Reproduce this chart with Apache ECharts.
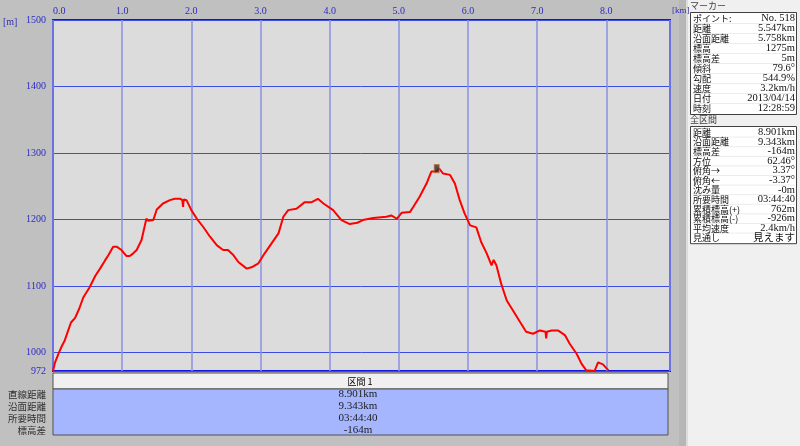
<!DOCTYPE html>
<html><head><meta charset="utf-8">
<script src="https://cdn.jsdelivr.net/npm/echarts@6/dist/echarts.min.js"></script>
<style>html,body{margin:0;padding:0;background:#c0c0c0;}#c{width:800px;height:446px;}</style>
</head><body><div id="c"></div>
<script>
// ---- data ----
const dist = [0,0.03,0.08,0.13,0.17,0.21,0.26,0.32,0.38,0.44,
0.53,0.61,0.68,0.75,0.80,0.87,0.92,0.99,1.06,1.11,
1.16,1.21,1.28,1.35,1.38,1.40,1.45,1.50,1.59,1.69,
1.76,1.84,1.87,1.88,1.89,1.93,2.00,2.08,2.17,2.27,
2.37,2.46,2.53,2.61,2.68,2.80,2.87,2.97,3.06,3.16,
3.26,3.33,3.40,3.52,3.64,3.74,3.83,3.91,4.05,4.17,
4.29,4.40,4.48,4.63,4.82,4.89,4.97,5.04,5.16,5.21,
5.30,5.40,5.47,5.54,5.58,5.64,5.74,5.81,5.88,5.95,
6.03,6.12,6.19,6.27,6.34,6.37,6.41,6.48,6.56,6.65,
6.75,6.84,6.94,7.04,7.12,7.13,7.14,7.21,7.30,7.40,
7.47,7.57,7.64,7.71,7.83,7.88,7.95,8.03];
const elev = [972,985,998,1010,1018,1030,1045,1052,1066,1083,
1098,1115,1126,1138,1146,1159,1159,1154,1145,1145,
1149,1154,1169,1201,1198,1196,1199,1215,1224,1229,
1231,1231,1229,1219,1230,1229,1214,1201,1189,1174,
1161,1154,1154,1146,1136,1126,1128,1134,1149,1164,
1179,1204,1214,1216,1226,1226,1231,1224,1214,1199,
1193,1195,1199,1202,1204,1206,1201,1210,1211,1219,
1234,1254,1272,1272,1277,1269,1267,1254,1229,1209,
1191,1188,1166,1149,1131,1139,1131,1103,1078,1063,
1046,1031,1028,1033,1031,1021,1031,1033,1033,1026,
1013,998,983,973,972,985,982,973];
const markerPoint = [5.547, 1275];
const yTicks = [972,1000,1100,1200,1300,1400,1500];
const xMin = 0, xMax = 8.92, yMin = 972, yMax = 1500;

const sectionHeader = '区間 1';
const sectionLabels = ['直線距離','沿面距離','所要時間','標高差'];
const sectionValues = ['8.901km','9.343km','03:44:40','-164m'];

const markerTitle = 'マーカー';
const markerLabels = ['ポイント:','距離','沿面距離','標高','標高差','傾斜','勾配','速度','日付','時刻'];
const markerValues = ['No. 518','5.547km','5.758km','1275m','5m','79.6°','544.9%','3.2km/h','2013/04/14','12:28:59'];
const totalTitle = '全区間';
const totalLabels = ['距離','沿面距離','標高差','方位','俯角→','俯角←','沈み量','所要時間','累積標高(+)','累積標高(-)','平均速度','見通し'];
const totalValues = ['8.901km','9.343km','-164m','62.46°','3.37°','-3.37°','-0m','03:44:40','762m','-926m','2.4km/h','見えます'];

// ---- chart ----
const FONT = "'Noto Sans CJK JP', 'DejaVu Sans', sans-serif";
const NUMFONT = "'Liberation Serif', 'Noto Sans CJK JP', serif";
const chart = echarts.init(document.getElementById('c'), null, {renderer:'canvas'});

const g = [];
// right side strips & panel
g.push({type:'rect', shape:{x:679,y:0,width:7,height:446}, style:{fill:'#b6b6b6'}, z:0});
g.push({type:'rect', shape:{x:686,y:0,width:2,height:446}, style:{fill:'#dcdcdc'}, z:0});
g.push({type:'rect', shape:{x:688,y:0,width:112,height:446}, style:{fill:'#f0f0f0'}, z:0});
// bottom section table
g.push({type:'rect', shape:{x:53,y:373,width:615,height:16}, style:{fill:'#f0f0f0', stroke:'#505050', lineWidth:1}, z:1});
g.push({type:'rect', shape:{x:53,y:389,width:615,height:46}, style:{fill:'#a6b6fe', stroke:'#505050', lineWidth:1}, z:1});
g.push({type:'text', x:360, y:381.5, style:{text:sectionHeader, fill:'#000', font:'9px '+FONT, align:'center', verticalAlign:'middle'}, z:5});
sectionLabels.forEach((t,i)=>{
  g.push({type:'text', x:46, y:394+i*12, style:{text:t, fill:'#303030', font:'9.5px '+FONT, align:'right', verticalAlign:'middle'}, z:5});
});
sectionValues.forEach((t,i)=>{
  g.push({type:'text', x:358, y:394+i*12, style:{text:t, fill:'#202020', font:'11px '+NUMFONT, align:'center', verticalAlign:'middle'}, z:5});
});
// right tables
function panelTable(title, titleY, top, rowH, labels, values){
  g.push({type:'text', x:690, y:titleY, style:{text:title, fill:'#404040', font:'9px '+FONT, align:'left', verticalAlign:'middle'}, z:5});
  const h = rowH*labels.length;
  g.push({type:'rect', shape:{x:690.5,y:top+0.5,width:106,height:h+2}, style:{fill:'#ffffff', stroke:'#404040', lineWidth:1}, z:1});
  labels.forEach((t,i)=>{
    const cy = top + 1.5 + rowH*(i+0.5);
    g.push({type:'text', x:693, y:cy, style:{text:t, fill:'#101010', font:'9px '+FONT, align:'left', verticalAlign:'middle'}, z:5});
    g.push({type:'text', x:795, y:cy, style:{text:values[i], fill:'#101010', font:'10.5px '+NUMFONT, align:'right', verticalAlign:'middle'}, z:5});
    if(i<labels.length-1){
      g.push({type:'line', shape:{x1:692,y1:top+1+rowH*(i+1)+0.5,x2:795,y2:top+1+rowH*(i+1)+0.5}, style:{stroke:'#ececec', lineWidth:1}, z:1});
    }
  });
}
panelTable(markerTitle, 6, 12, 10.0, markerLabels, markerValues);
panelTable(totalTitle, 119.5, 126, 9.6, totalLabels, totalValues);
// unit labels (last so they draw on top)
g.push({type:'text', x:3, y:22, style:{text:'[m]', fill:'#3030b0', font:'10px '+NUMFONT, align:'left', verticalAlign:'middle'}, z:10});
g.push({type:'text', x:672, y:11, style:{text:'[km]', fill:'#3030b0', font:'9px '+NUMFONT, align:'left', verticalAlign:'middle'}, z:10});

const option = {
  backgroundColor:'#c0c0c0',
  animation:false,
  grid:{left:53, top:20, width:617, height:351, show:true, backgroundColor:'#dcdcdc', borderColor:'#1414e6', borderWidth:2},
  xAxis:{type:'value', position:'top', min:xMin, max:xMax, interval:1,
    axisLine:{show:false}, axisTick:{show:false},
    axisLabel:{margin:4, color:'#2b2bc4', fontSize:10, fontFamily:NUMFONT, showMaxLabel:false,
      alignMinLabel:'left', formatter:v=>v.toFixed(1)},
    splitLine:{show:true, lineStyle:{color:'#8a92e0', width:1.5}}},
  yAxis:{type:'value', min:yMin, max:yMax,
    axisLine:{show:false},
    axisTick:{show:false, customValues:yTicks},
    axisLabel:{margin:7, color:'#2b2bc4', fontSize:10, fontFamily:NUMFONT, customValues:yTicks, formatter:v=>String(v)},
    splitLine:{show:true, lineStyle:{color:'#3c4ce0', width:1}}},
  graphic:{elements:g},
  series:[
    {type:'line', data:dist.map((d,i)=>[d,elev[i]]), showSymbol:false, symbol:'none',
      lineStyle:{color:'#ff0000', width:2}, z:3},
    {type:'scatter', data:[markerPoint], symbol:'rect', symbolSize:[5,8],
      itemStyle:{color:'#3a2a20', borderColor:'#c07040', borderWidth:1}, symbolOffset:[0,-1], z:4}
  ]
};
chart.setOption(option);
</script></body></html>
